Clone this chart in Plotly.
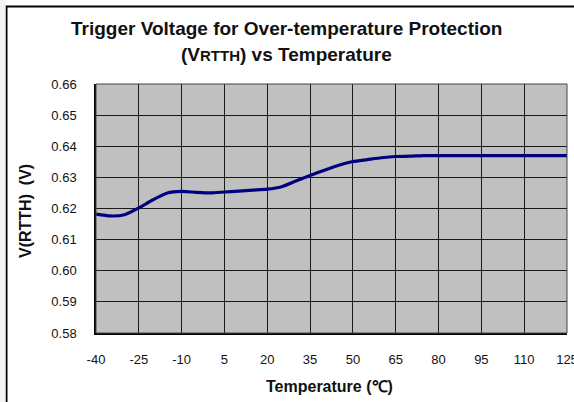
import plotly.graph_objects as go

temps = [-40, -35, -30, -25, -20, -15, -10, -5, 0, 5, 10, 15, 20, 25, 30, 35, 40, 45,
         50, 55, 60, 65, 70, 75, 80, 85, 90, 95, 100, 105, 110, 115, 120, 125]
vrtth = [0.6182, 0.6176, 0.6180, 0.6202, 0.6228, 0.6250, 0.6255, 0.6252, 0.6250, 0.6253,
         0.6256, 0.6259, 0.6262, 0.6270, 0.6288, 0.6306, 0.6323, 0.6339, 0.6351, 0.6357,
         0.6363, 0.6367, 0.6368, 0.6370, 0.6370, 0.6370, 0.6370, 0.6370, 0.6370, 0.6370,
         0.6370, 0.6370, 0.6370, 0.6370]
x_ticks = [-40, -25, -10, 5, 20, 35, 50, 65, 80, 95, 110, 125]
y_ticks = [0.58, 0.59, 0.60, 0.61, 0.62, 0.63, 0.64, 0.65, 0.66]

W, H = 574, 402
L, R, T, B = 96, 7, 84, 69
pw, ph = W - L - R, H - T - B

def px(xp):
    return (xp - L) / pw

def py(yp):
    return 1 - (yp - T) / ph

fig = go.Figure()
fig.add_trace(go.Scatter(x=temps, y=vrtth, mode="lines",
                         line=dict(color="#000080", width=3.2, shape="spline", smoothing=0.6),
                         showlegend=False, hoverinfo="skip"))

font = "Liberation Sans, Arial, sans-serif"
fig.update_layout(
    width=W, height=H,
    margin=dict(l=L, r=R, t=T, b=B, autoexpand=False),
    paper_bgcolor="white", plot_bgcolor="#C0C0C0",
    font=dict(family=font, size=13, color="#111"),
    xaxis=dict(range=[-40, 125], tickvals=x_ticks, ticktext=[str(v) for v in x_ticks],
               showgrid=True, gridcolor="#1a1a1a", gridwidth=1, zeroline=False,
               showline=True, linecolor="black", linewidth=1.5, mirror=False,
               ticks="", ticklabelstandoff=14, ticklabeloverflow="allow", automargin=False,
               tickfont=dict(size=13, color="#111")),
    yaxis=dict(range=[0.58, 0.66], tickvals=y_ticks, ticktext=["%.2f" % v for v in y_ticks],
               showgrid=True, gridcolor="#1a1a1a", gridwidth=1, zeroline=False,
               showline=True, linecolor="black", linewidth=1.5, automargin=False,
               ticks="", ticklabelstandoff=15, tickfont=dict(size=13, color="#111")),
    shapes=[
        dict(type="rect", xref="paper", yref="paper", x0=px(6.5), y0=py(420), x1=px(600), y1=py(6.5),
             line=dict(color="black", width=2), fillcolor="rgba(0,0,0,0)", layer="below"),
        dict(type="rect", xref="paper", yref="paper", x0=px(0), y0=py(410), x1=px(5.5), y1=py(-10),
             line=dict(width=0), fillcolor="#f4f4f4", layer="below"),
        dict(type="rect", xref="paper", yref="paper", x0=0, y0=0, x1=1, y1=1,
             line=dict(color="#444", width=1), fillcolor="rgba(0,0,0,0)"),
    ],
    annotations=[
        dict(text="<b>Trigger Voltage for Over-temperature Protection</b>", xref="paper", yref="paper",
             x=px(286), y=py(29), xanchor="center", yanchor="middle", showarrow=False,
             font=dict(size=19, color="#111", family=font)),
        dict(text="<b>(V<span style='font-size:15px'>RTTH</span>) vs Temperature</b>", xref="paper", yref="paper",
             x=px(286), y=py(55), xanchor="center", yanchor="middle", showarrow=False,
             font=dict(size=19, color="#111", family=font)),
        dict(text="<b>V(RTTH)  (V)</b>", xref="paper", yref="paper", textangle=-90,
             x=px(25), y=py(211), xanchor="center", yanchor="middle", showarrow=False,
             font=dict(size=16, color="#111", family=font)),
        dict(text="<b>Temperature (℃)</b>", xref="paper", yref="paper",
             x=px(329), y=py(386), xanchor="center", yanchor="middle", showarrow=False,
             font=dict(size=16, color="#111", family=font)),
    ],
)

fig.write_html("out.html", config={"displayModeBar": False},
               post_script="document.body.style.margin='0';")
